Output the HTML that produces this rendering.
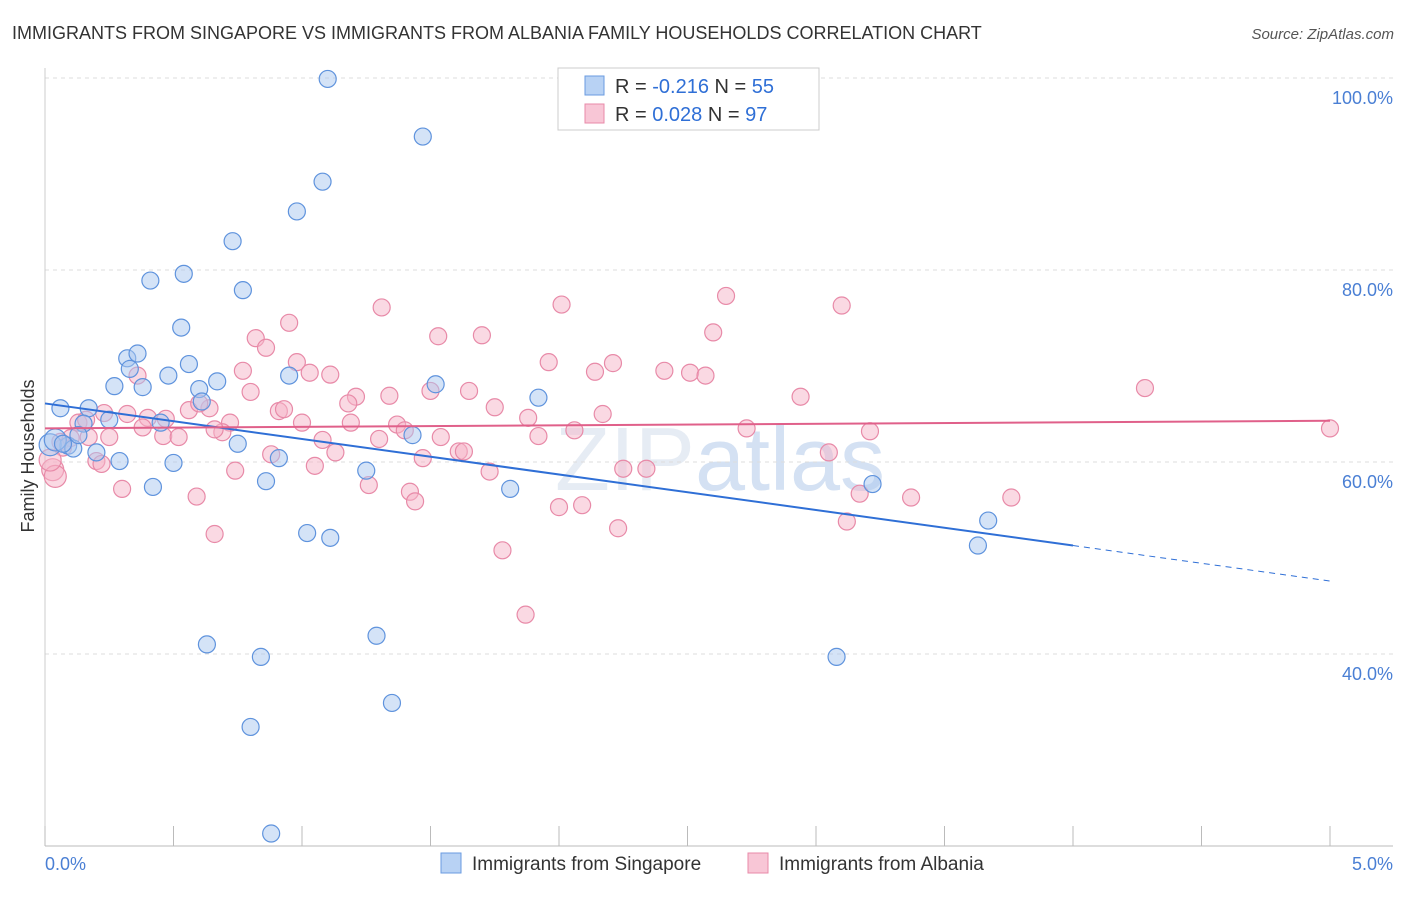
<!DOCTYPE html>
<html><head><meta charset="utf-8"><style>
body{margin:0;background:#fff;font-family:"Liberation Sans",sans-serif;}
svg text{font-family:"Liberation Sans",sans-serif;}
</style></head><body>
<svg id="chart" width="1406" height="892" xmlns="http://www.w3.org/2000/svg">
<text x="12" y="39" font-size="18" fill="#333">IMMIGRANTS FROM SINGAPORE VS IMMIGRANTS FROM ALBANIA FAMILY HOUSEHOLDS CORRELATION CHART</text>
<text x="1394" y="39" font-size="15" fill="#555" text-anchor="end" font-style="italic">Source: ZipAtlas.com</text>
<text x="720" y="490" font-size="90" fill="#e6ecf4" text-anchor="middle" font-family="Liberation Serif">ZIP<tspan fill="#d4e1f3" font-family="Liberation Sans">atlas</tspan></text>
<text transform="translate(34,456) rotate(-90)" font-size="18" fill="#333" text-anchor="middle">Family Households</text>
<g id="grid"></g><g id="pts"></g><g id="lines"></g>
<g>
<rect x="558" y="68" width="261" height="62" fill="#fff" stroke="#ccc"/>
<rect x="585" y="76" width="19" height="19" fill="#b8d2f4" stroke="#6a9be0"/>
<rect x="585" y="104" width="19" height="19" fill="#f8c6d6" stroke="#e88aa8"/>
<text x="615" y="93" font-size="20" fill="#333">R = <tspan fill="#2f6fd6">-0.216</tspan>   N = <tspan fill="#2f6fd6">55</tspan></text>
<text x="615" y="121" font-size="20" fill="#333">R =  <tspan fill="#2f6fd6">0.028</tspan>   N = <tspan fill="#2f6fd6">97</tspan></text>
</g>
<g>
<rect x="441" y="853" width="20" height="20" fill="#b8d2f4" stroke="#6a9be0"/>
<text x="472" y="870" font-size="19" fill="#333">Immigrants from Singapore</text>
<rect x="748" y="853" width="20" height="20" fill="#f8c6d6" stroke="#e88aa8"/>
<text x="779" y="870" font-size="19" fill="#333">Immigrants from Albania</text>
</g>
</svg>
<script>
const yTicks=[40,60,80,100];
const yTickLabels=["40.0%","60.0%","80.0%","100.0%"];
const xTicks=[0,0.5,1,1.5,2,2.5,3,3.5,4,4.5,5];
const sgX=[1.10,1.47,1.08,0.98,0.73,0.41,0.54,0.77,0.53,0.32,0.36,0.56,0.33,0.48,0.27,0.38,0.60,0.67,0.95,1.52,1.92,0.06,0.17,0.25,0.15,0.45,0.61,0.09,0.11,0.75,0.20,0.29,0.50,0.91,1.43,0.42,0.86,1.25,1.81,3.22,1.02,1.11,3.67,3.63,0.63,0.84,1.29,3.08,0.80,1.35,0.88,0.02,0.04,0.07,0.13];
const sgY=[99.9,93.9,89.2,86.1,83.0,78.9,79.6,77.9,74.0,70.8,71.3,70.2,69.7,69.0,67.9,67.8,67.6,68.4,69.0,68.1,66.7,65.6,65.6,64.4,64.0,64.1,66.3,61.7,61.4,61.9,61.0,60.1,59.9,60.4,62.8,57.4,58.0,59.1,57.2,57.7,52.6,52.1,53.9,51.3,41.0,39.7,41.9,39.7,32.4,34.9,21.3,61.8,62.3,61.9,62.8];
const alX=[1.31,2.01,2.65,3.10,0.95,1.53,1.70,2.60,0.82,0.86,0.98,1.96,2.21,0.77,1.11,1.03,2.14,2.41,2.51,2.57,4.28,0.36,0.80,1.21,1.34,1.50,1.65,1.18,0.91,0.93,1.75,1.88,2.17,2.94,0.56,0.64,0.32,0.40,0.47,0.60,0.72,1.00,1.19,1.37,1.40,0.38,0.46,0.52,0.69,2.06,2.73,3.21,5.00,0.23,0.13,0.17,0.25,0.06,1.08,1.30,1.54,1.92,0.07,0.88,1.13,1.47,1.61,1.63,3.05,0.20,0.22,1.05,1.73,2.25,2.34,0.74,0.03,0.04,0.30,0.59,1.26,1.42,1.44,3.17,3.37,3.76,2.00,2.09,3.12,2.23,0.66,1.78,1.87,0.02,0.10,0.16,0.66];
const alY=[76.1,76.4,77.3,76.3,74.5,73.1,73.2,73.5,72.9,71.9,70.4,70.4,70.3,69.5,69.1,69.3,69.4,69.5,69.3,69.0,67.7,69.0,67.3,66.8,66.9,67.4,67.4,66.1,65.3,65.5,65.7,64.6,65.0,66.8,65.4,65.6,65.0,64.6,64.5,66.1,64.1,64.1,64.1,63.9,63.3,63.6,62.7,62.6,63.1,63.3,63.5,63.2,63.5,65.1,64.1,62.6,62.6,62.1,62.3,62.4,62.6,62.7,61.5,60.8,61.0,60.4,61.1,61.1,61.0,60.1,59.8,59.6,59.0,59.3,59.3,59.1,59.2,58.5,57.2,56.4,57.6,56.9,55.9,56.7,56.3,56.3,55.3,55.5,53.8,53.1,52.5,50.8,44.1,60.2,62.5,64.4,63.4];
const sgTrend=[66.1,-3.7];
const alTrend=[63.5,0.16];
const X=v=>45+v*257, Y=v=>846-(v-20)*9.6;
const NS="http://www.w3.org/2000/svg";
function mk(tag,attrs,parent){const e=document.createElementNS(NS,tag);for(const k in attrs)e.setAttribute(k,attrs[k]);document.getElementById(parent).appendChild(e);return e;}
yTicks.forEach((t,i)=>{
 const l=mk('line',{x1:45,x2:1393,y1:Y(t),y2:Y(t),stroke:'#ddd','stroke-dasharray':'4,4'},'grid');
 
 
 const tx=mk('text',{x:1393,y:Y(t)+26,'font-size':18,fill:'#4a7fd4','text-anchor':'end'},'grid');
 tx.textContent=yTickLabels[i];
 
 
});
const ax=mk('line',{x1:45,x2:1393,y1:846,y2:846,stroke:'#bbb'},'grid');


const ay=mk('line',{x1:45,x2:45,y1:68,y2:846,stroke:'#ccc'},'grid');


xTicks.forEach(t=>{const l=mk('line',{x1:X(t),x2:X(t),y1:826,y2:846,stroke:'#bbb'},'grid');
 
 });
[[0,"0.0%",'start',45],[5,"5.0%",'end',1393]].forEach(a=>{const t=mk('text',{x:a[3],y:870,'font-size':18,fill:'#4a7fd4','text-anchor':a[2]},'grid');t.textContent=a[1];
 
 });
function pts(xs,ys,fill,stroke,name){xs.forEach((x,i)=>{const r=x<0.06?11:8.5;
 const c=mk('circle',{cx:X(x),cy:Y(ys[i]),r:r,fill:fill,'fill-opacity':0.5,stroke:stroke,'stroke-width':1.2},'pts');
 
 });}
pts(alX,alY,'#f5b3c8','#e88aa8','albania-point');
pts(sgX,sgY,'#a9c8f0','#5f93dd','singapore-point');
const f=(tr,x)=>tr[0]+tr[1]*x;
let l1=mk('line',{x1:X(0),y1:Y(f(sgTrend,0)),x2:X(4),y2:Y(f(sgTrend,4)),stroke:'#2f6fd6','stroke-width':2},'lines');


let l2=mk('line',{x1:X(4),y1:Y(f(sgTrend,4)),x2:X(5),y2:Y(f(sgTrend,5)),stroke:'#2f6fd6','stroke-width':1,'stroke-dasharray':'6,5'},'lines');


let l3=mk('line',{x1:X(0),y1:Y(f(alTrend,0)),x2:X(5),y2:Y(f(alTrend,5)),stroke:'#e0608a','stroke-width':2},'lines');


</script>
</body></html>
